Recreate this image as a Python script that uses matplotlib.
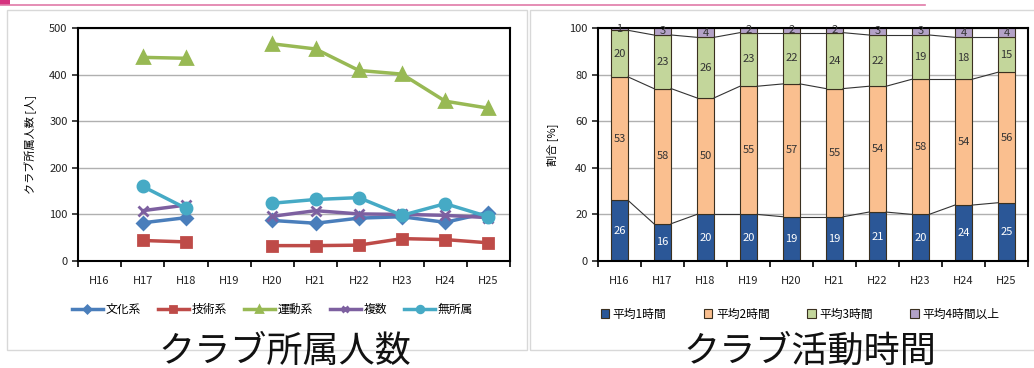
import matplotlib
matplotlib.use('Agg')
import matplotlib.pyplot as plt
import numpy as np
from matplotlib.lines import Line2D
from matplotlib.patches import Rectangle

plt.rcParams['font.family'] = ['Noto Sans CJK JP', 'DejaVu Sans']

years = ['H16', 'H17', 'H18', 'H19', 'H20', 'H21', 'H22', 'H23', 'H24', 'H25']
nan = np.nan

# club membership (people)
bunka = [nan, 82, 93, nan, 87, 81, 92, 95, 83, 104]
gijutsu = [nan, 44, 41, nan, 33, 33, 34, 48, 46, 39]
undou = [nan, 437, 435, nan, 466, 455, 409, 401, 343, 328]
fukusu = [nan, 108, 120, nan, 96, 108, 101, 100, 98, 93]
mushozoku = [nan, 160, 113, nan, 124, 132, 136, 98, 123, 95]

# activity time share (%)
h1 = [26, 16, 20, 20, 19, 19, 21, 20, 24, 25]
h2 = [53, 58, 50, 55, 57, 55, 54, 58, 54, 56]
h3 = [20, 23, 26, 23, 22, 24, 22, 19, 18, 15]
h4 = [1, 3, 4, 2, 2, 2, 3, 3, 4, 4]

W, H = 1034, 368
fig = plt.figure(figsize=(W / 100, H / 100), dpi=100)

# slide decorations
fig.add_artist(Line2D([0, 925 / W], [1 - 5 / H, 1 - 5 / H], color='#e07aa8', lw=1.2))
fig.add_artist(Rectangle((0, 1 - 5 / H), 10 / W, 5 / H, color='#d6337f', lw=0))
fig.add_artist(Rectangle((7 / W, 1 - 350 / H), 520 / W, 340 / H, fill=False, ec='#d8d8d8', lw=1))
fig.add_artist(Rectangle((530 / W, 1 - 350 / H), 520 / W, 340 / H, fill=False, ec='#d8d8d8', lw=1))

x = np.arange(len(years))


def style_axes(ax, ymax, ystep):
    ax.set_xlim(-0.5, len(years) - 0.5)
    ax.set_ylim(0, ymax)
    ax.set_yticks(np.arange(0, ymax + 1, ystep))
    ax.set_xticks(x)
    ax.set_xticklabels(years)
    ax.set_xticks(np.arange(-0.5, len(years), 1), minor=True)
    ax.tick_params(axis='x', which='major', length=0, labelsize=8, pad=11, colors='#222222')
    ax.tick_params(axis='x', which='minor', length=4, width=1.2, direction='out')
    ax.tick_params(axis='y', length=4, width=1.2, labelsize=8, colors='#222222')
    ax.yaxis.grid(True, color='#b0b0b0', lw=1)
    ax.set_axisbelow(True)
    for s in ax.spines.values():
        s.set_linewidth(1.5)
        s.set_color('black')


# left: line chart
ax1 = fig.add_axes([78 / W, 1 - 261 / H, (510 - 78) / W, (261 - 28) / H])
series = [
    ('文化系', bunka, '#4a7ebb', 'D', 6),
    ('技術系', gijutsu, '#be4b48', 's', 7),
    ('運動系', undou, '#98b954', '^', 8),
    ('複数', fukusu, '#7d60a0', 'x', 7),
    ('無所属', mushozoku, '#46aac5', 'o', 8),
]
for name, vals, col, mk, ms in series:
    ax1.plot(x, vals, color=col, lw=2.5, marker=mk, ms=ms, mew=2, label=name)
style_axes(ax1, 500, 100)
ax1.set_ylabel('クラブ所属人数 [人]', fontsize=8, labelpad=9)
ax1.legend(loc='upper center', bbox_to_anchor=(0.45, -0.135), ncol=5, frameon=False,
           fontsize=8.5, handlelength=2.6, handletextpad=0.2, columnspacing=1.5, markerscale=0.6)

# right: stacked bars
ax2 = fig.add_axes([598 / W, 1 - 261 / H, (1028 - 598) / W, (261 - 28) / H])
stack = [
    ('平均1時間', h1, '#2b5797', 'white'),
    ('平均2時間', h2, '#fabf8f', '#333333'),
    ('平均3時間', h3, '#c3d69b', '#333333'),
    ('平均4時間以上', h4, '#b3a2c7', '#333333'),
]
bw = 0.4
bottom = np.zeros(len(years))
for name, vals, col, tc in stack:
    vals = np.array(vals, dtype=float)
    ax2.bar(x, vals, bw, bottom=bottom, color=col, edgecolor='#3a3020', lw=0.8, label=name, zorder=2)
    for xi, b, v in zip(x, bottom, vals):
        ax2.text(xi, b + v / 2, f'{int(v)}', ha='center', va='center', fontsize=8, color=tc, zorder=4)
    bottom = bottom + vals
    # series lines between bars
    if name != '平均4時間以上':
        for i in range(len(years) - 1):
            ax2.plot([x[i] + bw / 2, x[i + 1] - bw / 2], [bottom[i], bottom[i + 1]],
                     color='#333333', lw=0.8, zorder=3)
style_axes(ax2, 100, 20)
ax2.set_ylabel('割合 [%]', fontsize=8, labelpad=8)
ax2.legend(loc='upper center', bbox_to_anchor=(0.47, -0.155), ncol=4, frameon=False,
           fontsize=8.5, handlelength=0.7, handleheight=0.7, handletextpad=0.3, columnspacing=3.2)

fig.text(285 / W, 1 - 352 / H, 'クラブ所属人数', ha='center', va='center', fontsize=26, color='#111111')
fig.text(810 / W, 1 - 352 / H, 'クラブ活動時間', ha='center', va='center', fontsize=26, color='#111111')

fig.savefig('out.png', dpi=100, facecolor='white')
